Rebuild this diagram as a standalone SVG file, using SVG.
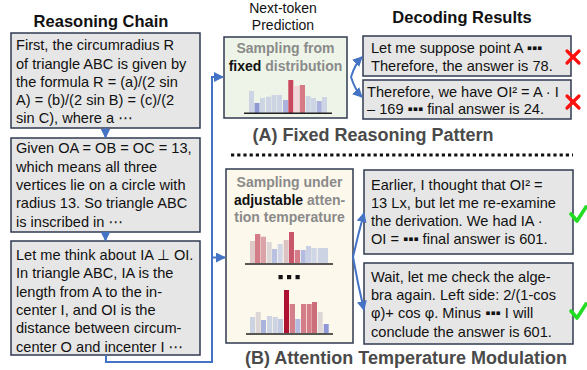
<svg xmlns="http://www.w3.org/2000/svg" width="587" height="370" viewBox="0 0 587 370">
<style>
  .title{font-family:"Liberation Sans",Arial,sans-serif;font-weight:bold;fill:#111;}
  .sub{font-family:"Liberation Sans",Arial,sans-serif;font-weight:normal;fill:#111;font-size:14px;}
  .cap{font-family:"Liberation Sans",Arial,sans-serif;font-weight:bold;fill:#4a4a4a;font-size:18px;}
  .t{font-family:"Liberation Sans",Arial,"DejaVu Sans",sans-serif;font-size:14.6px;fill:#111;}
  .g{font-family:"Liberation Sans",Arial,sans-serif;font-size:14px;font-weight:bold;fill:#8a8a8a;}
  .k{fill:#111;}
  .box{fill:#e6e6e6;stroke:#2f3a50;stroke-width:1.5;}
  .conn{fill:none;stroke:#4472c4;stroke-width:2;}
  .base{stroke:#222;stroke-width:1.6;}
  .x{stroke:#ff1010;stroke-width:3.2;stroke-linecap:round;}
  .chk{fill:none;stroke:#22dd22;stroke-width:3.6;stroke-linecap:round;stroke-linejoin:round;}
</style>
<defs>
  <marker id="ah" viewBox="0 0 10 10" refX="9" refY="5" markerWidth="5" markerHeight="5" orient="auto">
    <path d="M0,0 L10,5 L0,10 z" fill="#4472c4"/>
  </marker>
</defs>

<text class="title" x="101" y="27" font-size="16.5" text-anchor="middle">Reasoning Chain</text>
<text class="sub" x="283" y="13" text-anchor="middle">Next-token</text>
<text class="sub" x="283" y="30" text-anchor="middle">Prediction</text>
<text class="title" x="462" y="23" font-size="16.5" text-anchor="middle">Decoding Results</text>

<g id="chain1">
  <rect class="box" x="11" y="33" width="189" height="95"/>
  <text class="t" x="16" y="50">First, the circumradius R</text>
  <text class="t" x="16" y="68.5">of triangle ABC is given by</text>
  <text class="t" x="16" y="87">the formula R = (a)/(2 sin</text>
  <text class="t" x="16" y="105">A) = (b)/(2 sin B) = (c)/(2</text>
  <text class="t" x="16" y="123">sin C), where a ⋯</text>
</g>
<g id="chain2">
  <rect class="box" x="11" y="138" width="189" height="94"/>
  <text class="t" x="16" y="153">Given OA = OB = OC = 13,</text>
  <text class="t" x="16" y="172">which means all three</text>
  <text class="t" x="16" y="190">vertices lie on a circle with</text>
  <text class="t" x="16" y="208">radius 13. So triangle ABC</text>
  <text class="t" x="16" y="227">is inscribed in ⋯</text>
</g>
<g id="chain3">
  <rect class="box" x="11" y="241" width="189" height="114"/>
  <text class="t" x="16" y="260">Let me think about IA ⊥ OI.</text>
  <text class="t" x="16" y="278">In triangle ABC, IA is the</text>
  <text class="t" x="16" y="297">length from A to the in-</text>
  <text class="t" x="16" y="315">center I, and OI is the</text>
  <text class="t" x="16" y="333">distance between circum-</text>
  <text class="t" x="16" y="352">center O and incenter I ⋯</text>
</g>

<g id="fixed">
  <rect x="224" y="37" width="123" height="81" fill="#eef5e8" stroke="#2f3a50" stroke-width="1.5"/>
  <text class="g" x="285.5" y="53" text-anchor="middle">Sampling from</text>
  <text class="g" x="285.5" y="71" text-anchor="middle"><tspan class="k">fixed</tspan> distribution</text>
  <g>
    <rect x="249" y="91" width="5" height="22" fill="#cdd4e4"/>
    <rect x="254.5" y="103" width="5" height="10" fill="#8f9ad4"/>
    <rect x="260" y="98" width="5" height="15" fill="#cdd4e4"/>
    <rect x="266" y="96.7" width="5" height="16.3" fill="#cdd4e4"/>
    <rect x="271.5" y="95" width="5" height="18" fill="#cdd4e4"/>
    <rect x="277" y="95" width="5" height="18" fill="#cdd4e4"/>
    <rect x="283" y="100" width="5" height="13" fill="#aab2dd"/>
    <rect x="288.3" y="80" width="5" height="33" fill="#c9475c"/>
    <rect x="293.7" y="86" width="5.3" height="27" fill="#f1d6da"/>
    <rect x="299.7" y="85" width="5.3" height="28" fill="#d57a84"/>
    <rect x="305.7" y="96" width="5" height="17" fill="#cdd4e4"/>
    <rect x="311" y="98" width="5" height="15" fill="#cdd4e4"/>
    <rect x="316.7" y="101" width="5" height="12" fill="#aab2dd"/>
    <rect x="322" y="97" width="5" height="16" fill="#cdd4e4"/>
  </g>
  <line class="base" x1="244" y1="113.3" x2="332" y2="113.3"/>
</g>

<g id="attention">
  <rect x="226" y="169" width="127" height="174" fill="#fdf8ec" stroke="#2f3a50" stroke-width="1.5"/>
  <text class="g" x="289.5" y="187" text-anchor="middle">Sampling under</text>
  <text class="g" x="289.5" y="205" text-anchor="middle"><tspan class="k">adjustable</tspan> atten-</text>
  <text class="g" x="289.5" y="222" text-anchor="middle">tion temperature</text>
  <g>
    <rect x="250" y="241" width="5" height="22" fill="#dec8c8"/>
    <rect x="255" y="234" width="5.3" height="29" fill="#d47c87"/>
    <rect x="260.7" y="236.7" width="5.3" height="26.3" fill="#dba2a8"/>
    <rect x="266.7" y="242" width="5" height="21" fill="#ddd6d6"/>
    <rect x="272" y="249" width="5" height="14" fill="#b9c1e0"/>
    <rect x="277.7" y="244" width="5" height="19" fill="#d0d6e6"/>
    <rect x="283.7" y="240" width="5" height="23" fill="#dcc2c2"/>
    <rect x="289" y="232" width="5" height="31" fill="#c9566a"/>
    <rect x="294.7" y="250" width="5.3" height="13" fill="#d47c87"/>
    <rect x="300.7" y="250" width="5" height="13" fill="#b3bce0"/>
    <rect x="306" y="246" width="5" height="17" fill="#c9d0e3"/>
    <rect x="311.3" y="248" width="5.4" height="15" fill="#cfd6e6"/>
    <rect x="317.7" y="248" width="10.3" height="15" fill="#ccd3e3"/>
  </g>
  <line class="base" x1="245" y1="264" x2="333" y2="264"/>
  <g fill="#111">
    <rect x="278.5" y="275" width="4.2" height="4.2"/>
    <rect x="287" y="275" width="4.2" height="4.2"/>
    <rect x="295.5" y="275" width="4.2" height="4.2"/>
  </g>
  <g>
    <rect x="250" y="317" width="5" height="16" fill="#ccd3e3"/>
    <rect x="255.7" y="312" width="5" height="21" fill="#ddd6d6"/>
    <rect x="261" y="320" width="5" height="13" fill="#aab3dc"/>
    <rect x="267" y="316" width="5" height="17" fill="#ccd3e3"/>
    <rect x="272.7" y="317" width="5" height="16" fill="#ccd3e3"/>
    <rect x="278" y="319" width="5" height="14" fill="#c3cbe3"/>
    <rect x="284" y="290" width="5" height="43" fill="#ae1230"/>
    <rect x="289.7" y="304" width="5.3" height="29" fill="#d4808a"/>
    <rect x="295.3" y="319" width="5" height="14" fill="#b3bce0"/>
    <rect x="301" y="304" width="5" height="29" fill="#d47c87"/>
    <rect x="306.7" y="304" width="5" height="29" fill="#d47c87"/>
    <rect x="312" y="302" width="5" height="31" fill="#cc6d7a"/>
    <rect x="317.7" y="312" width="5" height="21" fill="#ddd6d6"/>
    <rect x="323.7" y="324" width="5" height="9" fill="#8e98d6"/>
  </g>
  <line class="base" x1="246" y1="334" x2="333" y2="334"/>
</g>

<g id="resA1">
  <rect class="box" x="363" y="36" width="208" height="40"/>
  <text class="t" x="371" y="53">Let me suppose point A ▪▪▪</text>
  <text class="t" x="371" y="71">Therefore, the answer is 78.</text>
</g>
<g id="resA2">
  <rect class="box" x="363" y="80" width="208" height="39"/>
  <text class="t" x="367" y="97">Therefore, we have OI² = A · I</text>
  <text class="t" x="367" y="114">– 169 ▪▪▪ final answer is 24.</text>
</g>
<g id="resB1">
  <rect class="box" x="364" y="170" width="209" height="84"/>
  <text class="t" x="371" y="190">Earlier, I thought that OI² =</text>
  <text class="t" x="371" y="208">13 Lx, but let me re-examine</text>
  <text class="t" x="371" y="226">the derivation. We had IA ·</text>
  <text class="t" x="371" y="244">OI = ▪▪▪ final answer is 601.</text>
</g>
<g id="resB2">
  <rect class="box" x="364" y="263" width="209" height="81"/>
  <text class="t" x="371" y="282">Wait, let me check the alge-</text>
  <text class="t" x="371" y="300">bra again. Left side: 2/(1-cos</text>
  <text class="t" x="371" y="318">φ)+ cos φ. Minus ▪▪▪ I will</text>
  <text class="t" x="371" y="337">conclude the answer is 601.</text>
</g>

<g id="marks">
  <line class="x" x1="567" y1="51" x2="579" y2="63"/>
  <line class="x" x1="579" y1="51" x2="567" y2="63"/>
  <line class="x" x1="567" y1="96" x2="579" y2="108"/>
  <line class="x" x1="579" y1="96" x2="567" y2="108"/>
  <path class="chk" d="M571,214 L577,221 L586,207"/>
  <path class="chk" d="M571,311 L577,318 L586,304"/>
</g>

<text class="cap" x="373" y="141" text-anchor="middle">(A) Fixed Reasoning Pattern</text>
<line x1="231" y1="155" x2="573" y2="155" stroke="#111" stroke-width="3.2" stroke-dasharray="3.2 3"/>
<text class="cap" x="406" y="364" text-anchor="middle">(B) Attention Temperature Modulation</text>

<g id="connectors">
  <line class="conn" x1="105.5" y1="128" x2="105.5" y2="137.5" marker-end="url(#ah)"/>
  <line class="conn" x1="105.5" y1="232" x2="105.5" y2="240.5" marker-end="url(#ah)"/>
  <path class="conn" d="M106,355 V362 H212 V77 H223" marker-end="url(#ah)"/>
  <path class="conn" d="M212,257.5 H225" marker-end="url(#ah)"/>
  <path class="conn" d="M351,77 Q355,64 362,57" marker-end="url(#ah)"/>
  <path class="conn" d="M351,77 Q355,90 362,97" marker-end="url(#ah)"/>
  <path class="conn" d="M353,257 Q358,235 364,213" marker-end="url(#ah)"/>
  <path class="conn" d="M353,257 Q358,285 364,310" marker-end="url(#ah)"/>
</g>
</svg>
